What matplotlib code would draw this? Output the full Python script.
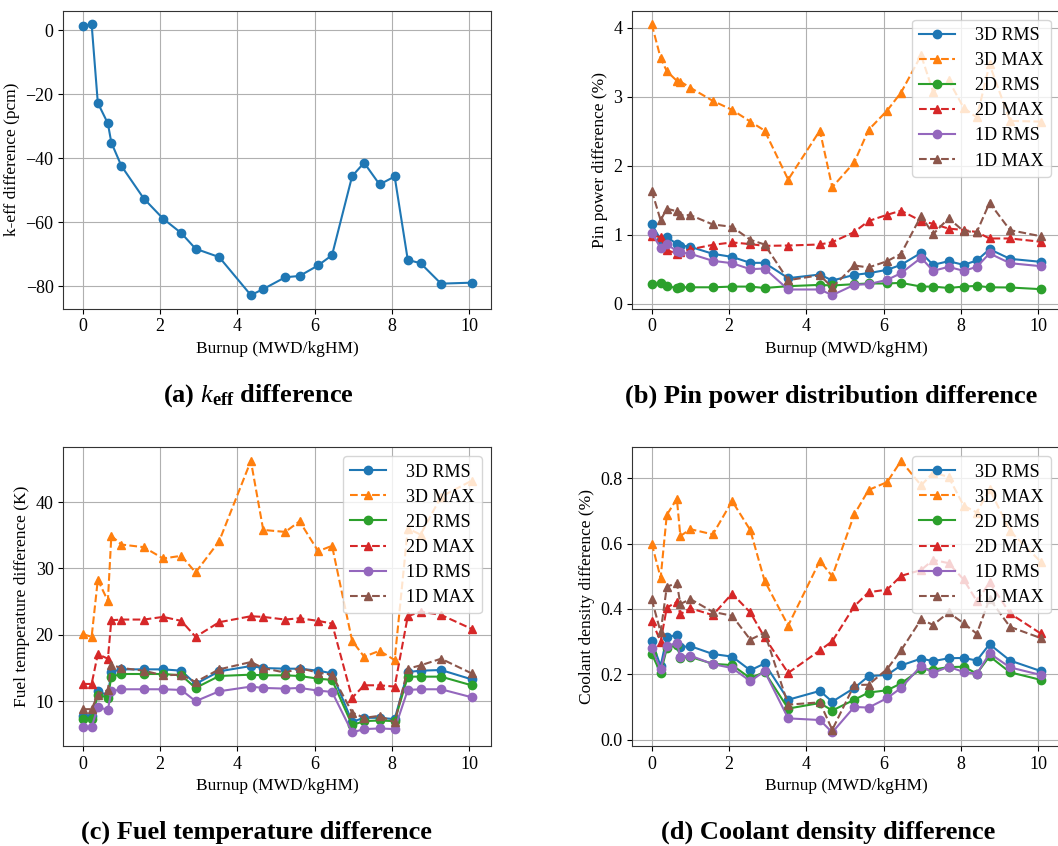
import matplotlib
matplotlib.use("Agg")
import matplotlib.pyplot as plt

plt.rcParams['font.family'] = ['Liberation Serif', 'DejaVu Serif']
plt.rcParams['mathtext.fontset'] = 'custom'
plt.rcParams['mathtext.rm'] = 'Liberation Serif'
plt.rcParams['mathtext.it'] = 'Liberation Serif:italic'
plt.rcParams['mathtext.bf'] = 'Liberation Serif:bold'

burnup = [0, 0.23, 0.39, 0.65, 0.74, 1.0, 1.58, 2.08, 2.55, 2.92, 3.53, 4.35, 4.67,
          5.24, 5.61, 6.09, 6.45, 6.97, 7.28, 7.68, 8.07, 8.41, 8.74, 9.27, 10.06]

keff_diff = [1.25, 1.9, -22.7, -29.1, -35.1, -42.4, -52.6, -58.9, -63.4, -68.3, -70.9, -82.8, -80.9,
             -77.2, -76.8, -73.5, -70.3, -45.6, -41.4, -48.2, -45.7, -71.8, -72.8, -79.2, -78.9]

# Pin power difference (%)
pin_3d_rms = [1.155, 0.93, 0.97, 0.865, 0.845, 0.826, 0.725, 0.68, 0.594, 0.594, 0.372, 0.425, 0.338,
              0.42, 0.444, 0.493, 0.565, 0.739, 0.565, 0.618, 0.565, 0.628, 0.792, 0.652, 0.609]
pin_3d_max = [4.05, 3.56, 3.37, 3.23, 3.22, 3.13, 2.94, 2.81, 2.64, 2.51, 1.80, 2.51, 1.69,
              2.05, 2.52, 2.80, 3.06, 3.60, 3.07, 3.24, 2.84, 2.70, 3.47, 2.65, 2.64]
pin_2d_rms = [0.285, 0.295, 0.26, 0.227, 0.24, 0.24, 0.24, 0.25, 0.25, 0.23, 0.256, 0.275, 0.266,
              0.285, 0.295, 0.295, 0.304, 0.25, 0.25, 0.23, 0.25, 0.26, 0.24, 0.237, 0.213]
pin_2d_max = [0.99, 0.966, 0.78, 0.725, 0.75, 0.79, 0.855, 0.89, 0.865, 0.84, 0.845, 0.86, 0.894,
              1.04, 1.20, 1.29, 1.35, 1.20, 1.16, 1.09, 1.07, 1.04, 0.947, 0.947, 0.90]
pin_1d_rms = [1.03, 0.807, 0.865, 0.763, 0.744, 0.725, 0.623, 0.589, 0.502, 0.512, 0.208, 0.208, 0.126,
              0.275, 0.285, 0.348, 0.444, 0.667, 0.478, 0.536, 0.478, 0.536, 0.73, 0.589, 0.546]
pin_1d_max = [1.64, 1.21, 1.38, 1.34, 1.285, 1.285, 1.15, 1.116, 0.928, 0.86, 0.343, 0.415, 0.237,
              0.556, 0.527, 0.618, 0.725, 1.275, 1.01, 1.24, 1.053, 1.04, 1.464, 1.068, 0.98]

# Fuel temperature difference (K)
ft_3d_rms = [7.8, 7.7, 11.5, 10.9, 14.4, 14.8, 14.8, 14.8, 14.6, 12.6, 14.5, 15.3, 15.0,
             14.9, 14.9, 14.6, 14.2, 6.9, 7.5, 7.5, 7.3, 14.4, 14.6, 14.7, 13.3]
ft_3d_max = [20.1, 19.7, 28.3, 25.1, 34.9, 33.6, 33.2, 31.5, 31.9, 29.4, 34.1, 46.2, 35.8,
             35.5, 37.1, 32.6, 33.4, 19.1, 16.7, 17.6, 16.2, 36.0, 35.1, 40.8, 43.2]
ft_2d_rms = [7.3, 7.3, 11.0, 10.5, 13.7, 14.1, 14.1, 14.1, 13.9, 12.0, 13.8, 14.0, 13.9,
             13.9, 13.8, 13.4, 13.2, 6.4, 7.0, 7.1, 7.0, 13.7, 13.7, 13.7, 12.4]
ft_2d_max = [12.6, 12.6, 17.1, 16.4, 22.2, 22.3, 22.3, 22.7, 22.1, 19.7, 21.9, 22.8, 22.7,
             22.3, 22.5, 22.1, 21.7, 10.5, 12.4, 12.4, 12.2, 22.8, 23.5, 23.0, 20.9]
ft_1d_rms = [6.1, 6.1, 9.1, 8.7, 11.5, 11.8, 11.8, 11.8, 11.7, 10.0, 11.5, 12.2, 12.0,
             11.9, 12.0, 11.6, 11.4, 5.3, 5.8, 5.9, 5.8, 11.7, 11.8, 11.8, 10.6]
ft_1d_max = [8.8, 8.8, 11.0, 11.7, 15.5, 15.0, 14.6, 13.9, 14.0, 12.9, 14.8, 15.9, 15.0,
             14.3, 15.0, 14.3, 14.0, 8.3, 7.5, 7.8, 6.8, 14.9, 15.4, 16.4, 14.2]

# Coolant density difference (%)
cd_3d_rms = [0.301, 0.225, 0.314, 0.320, 0.283, 0.286, 0.262, 0.254, 0.212, 0.233, 0.122, 0.149, 0.116,
             0.158, 0.194, 0.198, 0.227, 0.248, 0.240, 0.249, 0.250, 0.242, 0.292, 0.242, 0.210]
cd_3d_max = [0.600, 0.495, 0.688, 0.737, 0.623, 0.644, 0.628, 0.730, 0.641, 0.486, 0.349, 0.547, 0.500,
             0.689, 0.764, 0.788, 0.853, 0.778, 0.817, 0.804, 0.716, 0.695, 0.767, 0.638, 0.545]
cd_2d_rms = [0.263, 0.203, 0.279, 0.290, 0.251, 0.253, 0.232, 0.228, 0.188, 0.207, 0.095, 0.112, 0.089,
             0.122, 0.144, 0.151, 0.172, 0.216, 0.214, 0.222, 0.223, 0.202, 0.255, 0.206, 0.183]
cd_2d_max = [0.364, 0.300, 0.404, 0.421, 0.384, 0.402, 0.381, 0.447, 0.389, 0.313, 0.204, 0.273, 0.301,
             0.408, 0.451, 0.459, 0.501, 0.519, 0.550, 0.540, 0.490, 0.424, 0.481, 0.386, 0.325]
cd_1d_rms = [0.279, 0.215, 0.285, 0.297, 0.253, 0.257, 0.231, 0.219, 0.179, 0.209, 0.065, 0.060, 0.022,
             0.100, 0.098, 0.127, 0.158, 0.226, 0.204, 0.223, 0.207, 0.201, 0.264, 0.221, 0.198]
cd_1d_max = [0.429, 0.329, 0.468, 0.479, 0.415, 0.430, 0.391, 0.379, 0.306, 0.327, 0.107, 0.114, 0.030,
             0.167, 0.168, 0.216, 0.273, 0.368, 0.351, 0.389, 0.356, 0.324, 0.431, 0.345, 0.311]

series_labels = ['3D RMS', '3D MAX', '2D RMS', '2D MAX', '1D RMS', '1D MAX']
xlabel = 'Burnup (MWD/kgHM)'
titles = [r'(a) $k_{\mathbf{eff}}$ difference',
          '(b) Pin power distribution difference',
          '(c) Fuel temperature difference',
          '(d) Coolant density difference']
ylabels = ['k-eff difference (pcm)', 'Pin power difference (%)',
           'Fuel temperature difference (K)', 'Coolant density difference (%)']

W, H = 1058, 846
fig = plt.figure(figsize=(W / 100, H / 100), dpi=100)

def rect(l, t, r, b):
    return [l / W, 1 - b / H, (r - l) / W, (b - t) / H]

ax_a = fig.add_axes(rect(63.3, 10.7, 491, 308.7))
ax_b = fig.add_axes(rect(632.3, 10.7, 1060, 308.7))
ax_c = fig.add_axes(rect(63.3, 447.3, 491, 746))
ax_d = fig.add_axes(rect(632.3, 447.3, 1060, 746))

FS = 12.5
colors = ['C0', 'C1', 'C2', 'C3', 'C4', 'C5']

ax_a.plot(burnup, keff_diff, '-o', color='C0', markersize=6, linewidth=1.5)

def multi(ax, data):
    for i, (vals, lab) in enumerate(zip(data, series_labels)):
        if i % 2 == 0:
            ax.plot(burnup, vals, '-o', color=colors[i], markersize=6, linewidth=1.5, label=lab)
        else:
            ax.plot(burnup, vals, '--^', color=colors[i], markersize=6, linewidth=1.5, label=lab)
    ax.legend(loc='upper right', fontsize=FS + 0.5, handlelength=2.0, handletextpad=1.1,
              labelspacing=0.45)

multi(ax_b, [pin_3d_rms, pin_3d_max, pin_2d_rms, pin_2d_max, pin_1d_rms, pin_1d_max])
multi(ax_c, [ft_3d_rms, ft_3d_max, ft_2d_rms, ft_2d_max, ft_1d_rms, ft_1d_max])
multi(ax_d, [cd_3d_rms, cd_3d_max, cd_2d_rms, cd_2d_max, cd_1d_rms, cd_1d_max])

ax_b.set_yticks([0, 1, 2, 3, 4])
ax_c.set_yticks([10, 20, 30, 40])
ax_d.set_yticks([0.0, 0.2, 0.4, 0.6, 0.8])

for ax, yl in zip([ax_a, ax_b, ax_c, ax_d], ylabels):
    ax.grid(True, color='#b0b0b0', linewidth=0.8)
    ax.set_axisbelow(True)
    ax.set_xticks([0, 2, 4, 6, 8, 10])
    ax.set_xlabel(xlabel, fontsize=FS)
    ax.set_ylabel(yl, fontsize=FS)
    ax.tick_params(labelsize=FS + 0.5)
    for s in ax.spines.values():
        s.set_color('#333333')

title_pos = [(258, 396), (831, 396), (256, 832), (828, 832)]
for (x, y), t in zip(title_pos, titles):
    fig.text(x / W, 1 - y / H, t, ha='center', va='center', fontsize=19, fontweight='bold')

fig.savefig('out.png', dpi=100)
